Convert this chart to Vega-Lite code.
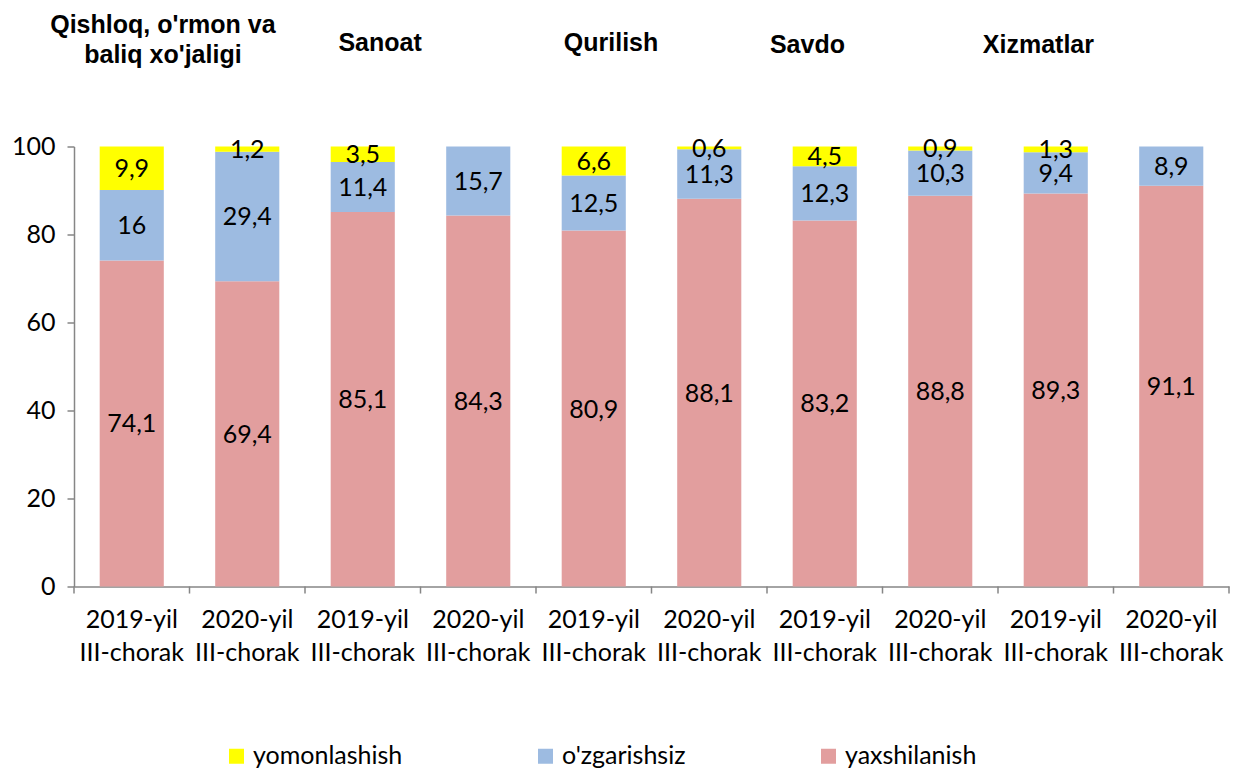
{
  "$schema": "https://vega.github.io/schema/vega-lite/v6.json",
  "width": 1155,
  "height": 440,
  "autosize": {"type": "none"},
  "padding": {"left": 74, "top": 146.5, "right": 6, "bottom": 182.5},
  "config": {
    "view": {"stroke": null},
    "font": "Lato",
    "locale": {"number": {"decimal": ",", "thousands": " ", "grouping": [3], "currency": ["", ""]}}
  },
  "datasets": {
    "bars": [
      {"cat": "Qishloq|2019-yil", "s": "yaxshilanish", "v": 74.1},
      {"cat": "Qishloq|2019-yil", "s": "o'zgarishsiz", "v": 16},
      {"cat": "Qishloq|2019-yil", "s": "yomonlashish", "v": 9.9},
      {"cat": "Qishloq|2020-yil", "s": "yaxshilanish", "v": 69.4},
      {"cat": "Qishloq|2020-yil", "s": "o'zgarishsiz", "v": 29.4},
      {"cat": "Qishloq|2020-yil", "s": "yomonlashish", "v": 1.2},
      {"cat": "Sanoat|2019-yil", "s": "yaxshilanish", "v": 85.1},
      {"cat": "Sanoat|2019-yil", "s": "o'zgarishsiz", "v": 11.4},
      {"cat": "Sanoat|2019-yil", "s": "yomonlashish", "v": 3.5},
      {"cat": "Sanoat|2020-yil", "s": "yaxshilanish", "v": 84.3},
      {"cat": "Sanoat|2020-yil", "s": "o'zgarishsiz", "v": 15.7},
      {"cat": "Sanoat|2020-yil", "s": "yomonlashish", "v": 0},
      {"cat": "Qurilish|2019-yil", "s": "yaxshilanish", "v": 80.9},
      {"cat": "Qurilish|2019-yil", "s": "o'zgarishsiz", "v": 12.5},
      {"cat": "Qurilish|2019-yil", "s": "yomonlashish", "v": 6.6},
      {"cat": "Qurilish|2020-yil", "s": "yaxshilanish", "v": 88.1},
      {"cat": "Qurilish|2020-yil", "s": "o'zgarishsiz", "v": 11.3},
      {"cat": "Qurilish|2020-yil", "s": "yomonlashish", "v": 0.6},
      {"cat": "Savdo|2019-yil", "s": "yaxshilanish", "v": 83.2},
      {"cat": "Savdo|2019-yil", "s": "o'zgarishsiz", "v": 12.3},
      {"cat": "Savdo|2019-yil", "s": "yomonlashish", "v": 4.5},
      {"cat": "Savdo|2020-yil", "s": "yaxshilanish", "v": 88.8},
      {"cat": "Savdo|2020-yil", "s": "o'zgarishsiz", "v": 10.3},
      {"cat": "Savdo|2020-yil", "s": "yomonlashish", "v": 0.9},
      {"cat": "Xizmatlar|2019-yil", "s": "yaxshilanish", "v": 89.3},
      {"cat": "Xizmatlar|2019-yil", "s": "o'zgarishsiz", "v": 9.4},
      {"cat": "Xizmatlar|2019-yil", "s": "yomonlashish", "v": 1.3},
      {"cat": "Xizmatlar|2020-yil", "s": "yaxshilanish", "v": 91.1},
      {"cat": "Xizmatlar|2020-yil", "s": "o'zgarishsiz", "v": 8.9},
      {"cat": "Xizmatlar|2020-yil", "s": "yomonlashish", "v": 0}
    ],
    "titles": [
      {"cat": "Qishloq|2019-yil", "title": "Qishloq, o'rmon va\nbaliq xo'jaligi"},
      {"cat": "Sanoat|2019-yil", "title": "Sanoat"},
      {"cat": "Qurilish|2019-yil", "title": "Qurilish"},
      {"cat": "Savdo|2019-yil", "title": "Savdo"},
      {"cat": "Xizmatlar|2019-yil", "title": "Xizmatlar"}
    ]
  },
  "data": {"name": "bars"},
  "transform": [
    {"calculate": "indexof(['yaxshilanish', \"o'zgarishsiz\", 'yomonlashish'], datum.s)", "as": "k"},
    {"stack": "v", "groupby": ["cat"], "sort": [{"field": "k"}], "as": ["y0", "y1"]},
    {"calculate": "(datum.y0 + datum.y1) / 2", "as": "ym"}
  ],
  "layer": [
    {
      "mark": {"type": "bar", "width": {"band": 0.555}},
      "encoding": {
        "x": {
          "field": "cat", "type": "nominal", "sort": null,
          "scale": {"paddingInner": 0, "paddingOuter": 0},
          "axis": {
            "title": null, "ticks": false, "labelAngle": 0,
            "domainColor": "#868686", "domainWidth": 1.5,
            "labelExpr": "[split(datum.value, '|')[1], 'III-chorak']",
            "labelFont": "Lato", "labelFontSize": 25, "labelColor": "#000000",
            "labelLineHeight": 33, "labelPadding": 21
          }
        },
        "y": {
          "field": "y1", "type": "quantitative",
          "scale": {"domain": [0, 100], "nice": false},
          "axis": {
            "title": null, "grid": false, "values": [0, 20, 40, 60, 80, 100],
            "domainColor": "#868686", "domainWidth": 1.5,
            "tickColor": "#868686", "tickSize": 7, "tickWidth": 1.5,
            "labelFont": "Lato", "labelFontSize": 25, "labelColor": "#000000",
            "labelPadding": 12
          }
        },
        "y2": {"field": "y0"},
        "color": {
          "field": "s", "type": "nominal",
          "scale": {
            "domain": ["yomonlashish", "o'zgarishsiz", "yaxshilanish"],
            "range": ["#FFFF00", "#9DBBE1", "#E29E9E"]
          },
          "legend": {
            "title": null, "orient": "none", "direction": "horizontal",
            "legendX": 150, "legendY": 597,
            "symbolType": "square", "symbolSize": 225, "symbolStrokeWidth": 0,
            "labelFont": "Lato", "labelFontSize": 25, "labelColor": "#000000",
            "labelOffset": 4, "columnPadding": 130
          }
        }
      }
    },
    {
      "transform": [{"filter": "datum.s == 'yaxshilanish'"}],
      "mark": {"type": "rule", "color": "#868686", "strokeWidth": 1.5},
      "encoding": {
        "x": {"field": "cat", "type": "nominal", "sort": null, "bandPosition": 0},
        "y": {"datum": 0},
        "y2": {"datum": -1.6}
      }
    },
    {
      "transform": [{"filter": "datum.s == 'yaxshilanish' && datum.cat == 'Xizmatlar|2020-yil'"}],
      "mark": {"type": "rule", "color": "#868686", "strokeWidth": 1.5},
      "encoding": {
        "x": {"field": "cat", "type": "nominal", "sort": null, "bandPosition": 1},
        "y": {"datum": 0},
        "y2": {"datum": -1.6}
      }
    },
    {
      "transform": [{"filter": "datum.v > 0"}],
      "mark": {"type": "text", "font": "Lato", "fontSize": 25, "color": "#000000", "baseline": "middle", "dy": 1},
      "encoding": {
        "x": {"field": "cat", "type": "nominal", "sort": null},
        "y": {"field": "ym", "type": "quantitative"},
        "text": {"field": "v", "type": "quantitative", "format": ".1~f"}
      }
    },
    {
      "data": {"name": "titles"},
      "transform": [{"filter": "datum.cat == 'Qishloq|2019-yil'"}],
      "mark": {"type": "text", "font": "Liberation Sans", "fontWeight": "bold", "fontSize": 25, "color": "#000000", "baseline": "middle", "lineBreak": "\n", "lineHeight": 30},
      "encoding": {
        "x": {"field": "cat", "type": "nominal", "sort": null, "bandPosition": 0.77},
        "y": {"datum": 127.6},
        "text": {"field": "title", "type": "nominal"}
      }
    },
    {
      "data": {"name": "titles"},
      "transform": [{"filter": "datum.cat == 'Sanoat|2019-yil' || datum.cat == 'Qurilish|2019-yil'"}],
      "mark": {"type": "text", "font": "Liberation Sans", "fontWeight": "bold", "fontSize": 25, "color": "#000000", "baseline": "middle"},
      "encoding": {
        "x": {"field": "cat", "type": "nominal", "sort": null, "bandPosition": 0.65},
        "y": {"datum": 123.5},
        "text": {"field": "title", "type": "nominal"}
      }
    },
    {
      "data": {"name": "titles"},
      "transform": [{"filter": "datum.cat == 'Savdo|2019-yil' || datum.cat == 'Xizmatlar|2019-yil'"}],
      "mark": {"type": "text", "font": "Liberation Sans", "fontWeight": "bold", "fontSize": 25, "color": "#000000", "baseline": "middle"},
      "encoding": {
        "x": {"field": "cat", "type": "nominal", "sort": null, "bandPosition": 0.35},
        "y": {"datum": 123},
        "text": {"field": "title", "type": "nominal"}
      }
    }
  ]
}
